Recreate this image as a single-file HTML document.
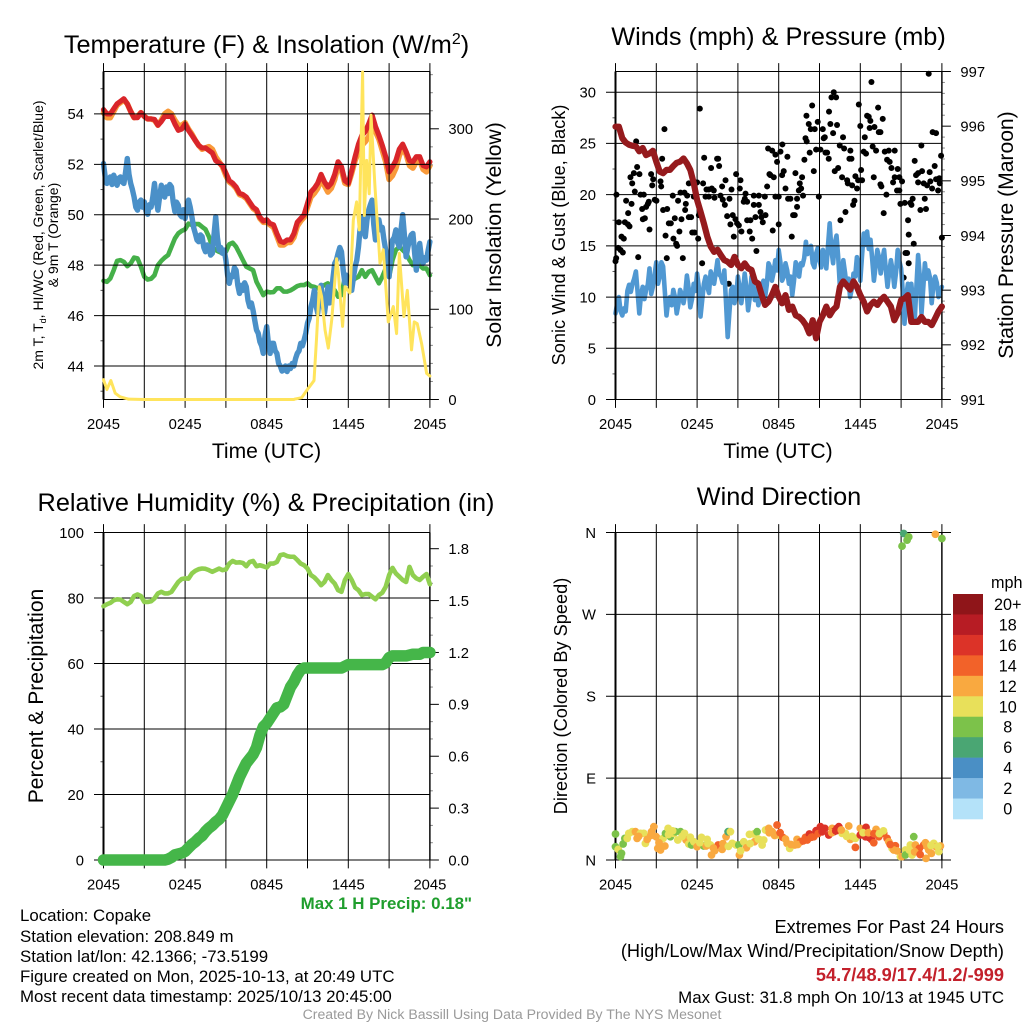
<!DOCTYPE html>
<html lang="en">
<head>
<meta charset="utf-8">
<title>Copake Mesonet Meteogram</title>
<style>
html,body{margin:0;padding:0;background:#fff;}
svg{display:block;font-family:"Liberation Sans",Arial,sans-serif;fill:#000;}
.tick{font-size:14.8px;}
.axt{font-size:21.1px;}
.axs{font-size:18.2px;}
.ttl{font-size:25.3px;}
.info{font-size:16.85px;}
.infob{font-size:18.2px;}
</style>
</head>
<body>
<svg id="chart" width="1024" height="1024" viewBox="0 0 1024 1024" xmlns="http://www.w3.org/2000/svg">
  <g id="layer-under"></g>
  <text class="ttl" x="266.5" y="53" text-anchor="middle">Temperature (F) &amp; Insolation (W/m<tspan font-size="16" dy="-9">2</tspan><tspan dy="9">)</tspan></text>
  <text class="ttl" x="778.5" y="45" text-anchor="middle">Winds (mph) &amp; Pressure (mb)</text>
  <text class="ttl" x="266" y="511" text-anchor="middle">Relative Humidity (%) &amp; Precipitation (in)</text>
  <text class="ttl" x="779" y="505" text-anchor="middle">Wind Direction</text>

  <text class="axt" x="266.5" y="458" text-anchor="middle">Time (UTC)</text>
  <text class="axt" x="778" y="458" text-anchor="middle">Time (UTC)</text>

  <text font-size="14" text-anchor="middle" transform="translate(43,235) rotate(-90)">2m T, T<tspan font-size="9" dy="3">d</tspan><tspan dy="-3">, HI/WC (Red, Green, Scarlet/Blue)</tspan></text>
  <text font-size="14" text-anchor="middle" transform="translate(58,235) rotate(-90)">&amp; 9m T (Orange)</text>
  <text class="axt" text-anchor="middle" transform="translate(501,235) rotate(-90)">Solar Insolation (Yellow)</text>
  <text class="axs" text-anchor="middle" transform="translate(565,235) rotate(-90)">Sonic Wind &amp; Gust (Blue, Black)</text>
  <text class="axt" text-anchor="middle" transform="translate(1013,235) rotate(-90)">Station Pressure (Maroon)</text>
  <text class="axt" text-anchor="middle" transform="translate(43,696) rotate(-90)">Percent &amp; Precipitation</text>
  <text class="axs" text-anchor="middle" transform="translate(567,696) rotate(-90)">Direction (Colored By Speed)</text>

  <text font-size="16.9" font-weight="bold" fill="#1f9e2d" x="472" y="909" text-anchor="end">Max 1 H Precip: 0.18"</text>

  <text class="info" x="20" y="921">Location: Copake</text>
  <text class="info" x="20" y="942">Station elevation: 208.849 m</text>
  <text class="info" x="20" y="962">Station lat/lon: 42.1366; -73.5199</text>
  <text class="info" x="20" y="982">Figure created on Mon, 2025-10-13, at 20:49 UTC</text>
  <text class="info" x="20" y="1002">Most recent data timestamp: 2025/10/13 20:45:00</text>

  <text class="infob" x="1004" y="933" text-anchor="end">Extremes For Past 24 Hours</text>
  <text class="infob" x="1004" y="957" text-anchor="end">(High/Low/Max Wind/Precipitation/Snow Depth)</text>
  <text class="infob" font-weight="bold" fill="#c3202b" x="1004" y="981" text-anchor="end">54.7/48.9/17.4/1.2/-999</text>
  <text class="info" x="1004" y="1003" text-anchor="end">Max Gust: 31.8 mph On 10/13 at 1945 UTC</text>
  <text font-size="14.1" fill="#9a9a9a" x="512" y="1019" text-anchor="middle">Created By Nick Bassill Using Data Provided By The NYS Mesonet</text>
</svg>

<script>
// ---------- shared axis data ----------
const xTickHours = [0, 3, 6, 9, 12, 15, 18, 21, 24];
const xTickLabels = ['2045', '', '0245', '', '0845', '', '1445', '', '2045'];
const spanHours = 24;

// ---------- temperature panel ----------
const tempTicks = [44, 46, 48, 50, 52, 54];
const tempMinorTicks = [43, 45, 47, 49, 51, 53, 55];
const insolTicks = [0, 100, 200, 300];
const insolMinorTicks = [20, 40, 60, 80, 120, 140, 160, 180, 220, 240, 260, 280, 320, 340, 360];
const temp2m = [54.17,54.0,54.0,54.2,54.4,54.5,54.6,54.4,54.1,53.85,53.85,54.05,53.9,53.8,53.8,53.78,53.55,53.7,53.9,53.9,53.9,53.6,53.35,53.4,53.6,53.35,53.15,52.95,52.75,52.65,52.65,52.55,52.45,52.15,52.05,51.95,51.65,51.35,51.25,51.1,50.85,50.8,50.7,50.5,50.3,50.2,49.9,49.75,49.8,49.65,49.6,49.25,48.95,48.9,49.0,49.0,49.25,49.7,49.85,50.0,50.45,50.9,51.05,51.25,51.6,51.3,51.1,51.25,51.6,52.1,51.9,51.35,51.25,51.75,52.3,52.8,53.15,53.3,53.6,53.95,53.5,53.15,52.75,52.3,51.7,51.9,52.15,52.6,52.8,52.5,52.15,52.1,52.3,52.3,51.95,51.9,52.1];
const temp9m = [54.05,53.85,53.85,54.1,54.35,54.45,54.55,54.4,54.1,53.85,53.9,54.05,53.9,53.8,53.8,53.75,53.55,53.75,54.0,54.1,54.0,53.75,53.55,53.55,53.65,53.4,53.2,52.95,52.75,52.6,52.65,52.7,52.6,52.3,52.1,51.9,51.55,51.3,51.2,51.05,50.8,50.75,50.65,50.45,50.25,50.15,49.85,49.7,49.7,49.6,49.5,49.15,48.8,48.8,48.9,48.9,49.1,49.55,49.75,49.9,50.3,50.7,50.85,51.05,51.4,51.15,50.9,51.05,51.4,51.95,51.75,51.25,51.2,51.65,52.15,52.5,52.75,52.9,53.1,53.4,53.3,53.0,52.55,52.1,51.4,51.55,51.85,52.35,52.65,52.4,51.95,51.85,52.1,52.15,51.8,51.7,51.95];
const dewPoint = [47.38,47.34,47.47,47.8,48.17,48.2,48.13,47.96,48.07,48.3,48.27,47.94,47.54,47.43,47.46,47.6,48.0,48.17,48.3,48.4,48.73,49.06,49.26,49.36,49.42,49.65,49.59,49.63,49.63,49.52,49.42,49.13,48.73,48.6,48.53,48.47,48.53,48.83,48.89,48.73,48.47,48.2,47.94,47.87,47.8,47.34,47.08,46.81,46.95,46.92,46.93,47.08,47.08,46.95,46.95,47.0,47.08,47.17,47.21,47.21,47.28,47.17,47.14,47.08,47.14,47.21,47.28,47.14,47.0,46.75,46.81,47.54,47.28,47.34,47.47,47.54,47.8,47.54,47.74,47.8,47.54,47.28,47.54,47.87,47.54,48.2,48.6,48.73,48.6,48.47,48.2,48.0,48.13,48.0,47.87,47.87,47.6];
const apparentTemp = [52.03,51.5,51.24,51.4,51.5,51.2,51.57,51.4,51.17,51.45,51.5,51.3,51.24,51.7,52.23,51.6,51.24,51.0,50.7,50.3,50.18,50.5,50.58,50.3,50.51,50.15,50.02,50.4,50.3,50.7,51.24,50.6,50.18,50.7,51.17,50.8,50.7,51.1,50.84,51.2,51.1,50.5,50.12,50.5,50.38,50.0,49.92,50.2,49.85,50.2,50.58,50.3,49.92,49.5,49.26,49.0,48.93,49.2,49.13,48.7,48.53,48.8,48.73,48.4,48.47,49.2,49.92,49.1,48.6,48.7,48.47,48.6,48.2,47.6,47.28,47.6,47.54,47.9,47.8,47.2,46.88,47.2,47.0,47.3,47.14,46.6,46.35,46.5,46.2,45.8,45.43,45.3,44.96,44.8,44.5,45.2,45.56,44.9,44.5,44.9,44.9,44.6,44.5,44.1,44.0,43.8,43.84,44.0,43.78,44.0,43.9,44.1,44.0,44.3,44.5,44.6,44.9,44.8,45.03,45.3,45.7,45.9,46.35,46.6,47.0,46.4,46.1,46.8,47.2,46.5,46.1,46.6,47.14,46.5,46.75,47.5,48.07,48.2,48.47,48.7,48.53,47.8,47.28,47.6,47.28,47.4,47.0,47.5,47.94,48.2,48.73,49.5,49.92,49.4,49.13,49.8,50.18,50.4,50.58,49.6,49.0,49.5,49.8,49.4,49.5,49.0,48.6,48.1,47.54,48.4,49.0,49.1,49.4,48.9,48.73,49.4,50.0,49.2,48.33,48.7,49.0,49.2,49.26,48.5,47.8,48.4,48.86,48.3,48.07,48.3,48.2,48.6,48.93];
const insolHours = [0,0.25,0.54,0.86,1.22,1.84,3,6,9,12,14,14.08,14.57,14.94,15.48,15.67,15.87,16.04,16.29,16.53,16.78,17.14,17.27,17.58,17.76,18.12,18.37,18.61,18.81,19.05,19.18,19.35,19.54,19.67,19.96,20.33,20.57,20.94,21.31,21.55,21.75,22.09,22.34,22.65,22.85,23.07,23.39,23.76,24];
const insolValues = [22,11,21,7,3,0.4,0,0,0,0,0,0.5,2,10,21,69,125,114,77,57,88,156,140,81,125,118,199,219,188,363,204,265,228,315,236,151,166,86,103,73,162,92,121,55,86,84,62,29,26];

// ---------- wind panel ----------
const windTicks = [0, 5, 10, 15, 20, 25, 30];
const windMinorTicks = [2.5, 7.5, 12.5, 17.5, 22.5, 27.5];
const pressTicks = [991, 992, 993, 994, 995, 996, 997];
const pressMinorTicks = [991.2,991.4,991.6,991.8,992.2,992.4,992.6,992.8,993.2,993.4,993.6,993.8,994.2,994.4,994.6,994.8,995.2,995.4,995.6,995.8,996.2,996.4,996.6,996.8];
const windSpeed = [8.4,9.4,10.0,8.6,8.2,8.9,8.6,10.6,11.2,10.5,11.3,11.8,12.5,10.5,8.4,10.2,11.0,9.8,10.7,11.2,12.8,10.3,11.0,12.2,13.4,11.3,12.0,13.4,13.0,10.6,8.2,9.6,10.0,9.2,10.7,10.0,8.4,9.3,10.7,10.3,9.4,10.3,12.1,10.9,9.0,9.8,11.3,10.6,12.3,11.0,8.1,9.7,11.3,12.0,11.0,10.4,12.5,11.9,11.3,12.4,13.6,12.2,12.0,11.4,12.6,9.5,6.1,8.5,10.7,11.0,9.4,10.2,12.0,11.0,9.4,10.6,12.3,10.9,8.7,10.0,12.0,11.3,9.7,10.8,9.2,9.8,11.0,11.6,10.0,11.2,13.3,12.9,11.6,12.4,13.6,12.6,14.6,13.4,11.6,12.0,13.3,12.6,11.3,12.0,10.2,11.6,13.4,12.8,12.0,13.3,13.1,13.8,15.4,14.2,14.6,15.0,13.3,12.9,14.25,14.8,13.6,12.9,14.6,14.0,12.8,15.0,17.2,14.6,13.3,15.3,16.0,13.9,11.0,12.2,13.6,12.4,11.0,11.8,10.0,10.8,12.3,12.0,13.9,12.9,11.6,14.0,16.2,15.1,16.4,14.7,15.6,13.7,11.6,13.0,14.6,13.9,12.3,13.6,14.6,12.7,11.0,12.4,13.6,12.6,11.0,12.4,14.6,13.5,12.8,10.5,7.4,10.0,11.3,9.6,11.3,9.5,7.7,11.0,14.1,12.0,8.4,10.8,13.3,11.8,12.6,11.9,9.4,11.2,12.0,11.4,10.0,10.6,11.0];
const pressure = [995.99,995.99,995.78,995.7,995.66,995.64,995.63,995.54,995.6,995.47,995.5,995.55,995.35,995.17,995.14,995.2,995.2,995.27,995.33,995.35,995.41,995.32,995.2,994.96,994.65,994.44,994.22,993.98,993.8,993.7,993.74,993.64,993.55,993.52,993.46,993.61,993.46,993.4,993.49,993.4,993.37,993.16,993.12,992.91,992.73,992.79,992.91,993.06,992.88,992.76,992.91,992.64,992.7,992.54,992.51,992.45,992.36,992.21,992.45,992.12,992.42,992.54,992.7,992.54,992.64,992.7,993.06,993.16,993.09,993.01,993.16,993.06,992.91,992.79,992.61,992.73,992.79,992.73,992.82,992.88,992.79,992.7,992.45,992.58,992.82,992.85,992.91,992.42,992.42,992.42,992.51,992.42,992.42,992.36,992.48,992.61,992.7];
const gustHours = [0,0.05,0.07,0.25,0.2,0.37,0.54,0.44,0.61,0.69,0.78,0.91,0.93,1.03,1.1,1.18,1.23,1.35,1.42,1.52,1.59,1.67,1.76,1.84,1.96,2.08,2.01,2.16,2.25,2.38,2.45,2.5,2.62,2.7,2.77,2.89,3.01,3.31,3.36,3.43,3.5,3.6,3.68,3.8,3.77,3.92,4.07,4.21,4.26,4.36,4.46,4.53,4.6,4.7,4.78,4.85,4.95,5.07,5.12,5.17,5.27,5.39,5.39,5.56,5.64,5.81,5.76,6.0,6.13,6.2,6.08,6.37,6.44,6.52,6.62,6.69,6.86,7.03,7.08,6.86,7.23,7.28,7.47,7.55,7.62,7.72,7.84,7.89,8.04,8.09,8.21,8.33,8.38,8.45,8.53,8.62,8.7,8.82,8.87,8.94,9.07,9.14,9.19,9.26,9.43,9.56,9.51,9.68,9.68,9.87,9.92,10.05,10.17,10.17,10.29,10.36,10.54,10.54,10.66,10.73,10.83,11.03,10.98,11.15,11.22,11.32,11.39,11.52,11.56,11.64,11.76,11.88,11.76,12,12,12.13,12.27,12.25,12.37,12.5,12.64,12.69,12.86,12.96,13.06,13.18,13.23,13.35,13.35,13.48,13.55,13.65,13.72,13.79,13.89,13.97,14.06,14.04,14.21,14.28,14.36,14.46,14.58,14.65,14.75,14.87,14.95,15.07,15.24,15.31,15.39,15.44,15.56,15.68,15.7,15.8,15.88,16.0,16.05,16.22,16.29,16.12,16.37,16.49,16.54,16.66,16.73,16.81,16.91,17.03,17.08,17.2,17.27,17.35,17.4,17.47,17.57,17.64,17.76,17.84,17.89,18.0,18.06,18.13,18.25,18.33,18.42,18.5,18.62,18.69,18.74,18.82,18.91,18.99,19.04,19.16,19.31,19.36,19.48,19.48,19.55,19.65,19.72,19.8,19.92,19.97,20.09,20.16,20.29,20.41,20.53,20.53,20.7,20.75,20.87,20.95,20.87,21.07,21.19,21.27,21.32,21.44,21.51,21.56,21.56,21.68,21.76,21.85,21.93,22.0,22.1,22.25,22.25,22.42,22.54,22.49,22.66,22.74,22.83,22.91,23.03,23.1,23.15,23.28,23.32,23.47,23.57,23.57,23.72,23.81,23.84,23.94,24];
const gustSpeeds = [13.5,13.8,20.0,17.3,14.8,14.6,14.35,15.9,15.7,17.3,19.4,17.1,18.2,16.9,21.7,19.1,21.1,22.1,20.3,25.2,22.7,13.9,22.0,20.0,18.6,20.0,17.6,17.7,18.8,19.1,19.3,16.6,22.0,20.9,21.5,19.5,19.4,21.3,20.8,23.5,18.5,26.4,16.0,18.6,13.8,17.2,17.2,19.9,15.7,17.7,15.2,15.0,19.4,16.4,20.2,17.6,13.8,20.2,18.5,19.1,19.9,21.1,17.8,17.8,16.3,16.3,19.8,21.2,18.0,28.4,15.7,13.3,21.1,23.6,19.8,20.5,20.5,22.6,20.6,19.8,20.4,19.7,23.5,23.5,22.8,19.9,20.8,19.5,19.0,21.4,17.9,11.3,19.6,17.1,20.5,18.0,15.9,17.6,22.0,17.2,17.0,20.6,21.4,16.4,19.3,20.1,19.6,19.3,17.5,16.4,17.5,15.7,19.9,19.0,17.8,14.5,19.0,19.9,18.3,17.8,17.3,18.0,19.8,20.8,24.5,22.0,21.9,24.3,16.5,21.7,23.9,23.2,19.8,19.8,17.1,24.2,24.9,21.9,22.3,20.6,23.7,19.6,19.6,15.9,18.0,18.0,22.1,18.8,19.6,20.4,21.1,20.6,21.7,19.9,23.4,25.5,25.2,27.7,26.9,24.1,26.4,28.7,22.3,26.4,24.4,27.1,19.8,24.4,26.4,25.5,25.6,24.1,24.1,23.5,28.1,26.9,29.5,26.0,30.0,29.5,26.8,22.3,22.6,24.8,17.5,21.7,25.6,24.5,18.3,21.4,21.1,23.5,24.3,23.5,20.9,19.0,19.4,21.8,20.6,21.4,28.8,26.7,22.4,21.4,24.2,25.6,24.0,27.7,27.6,26.5,27.2,31.0,24.7,21.7,26.6,24.3,28.5,26.1,26.1,21.0,20.8,27.4,18.2,24.2,20.0,23.4,24.3,23.2,22.6,21.2,24.3,21.7,20.4,22.5,20.4,19.1,21.7,21.3,11.9,19.2,14.3,14.3,17.5,16.1,13.3,19.2,19.0,19.6,15.2,23.3,21.9,22.1,21.2,18.5,22.3,24.8,21.1,19.6,18.6,20.9,31.8,22.2,21.3,20.6,26.1,22.8,26.0,21.5,20.4,21.6,21.1,23.8,15.8];

// ---------- humidity panel ----------
const rhTicks = [0, 20, 40, 60, 80, 100];
const rhMinorTicks = [10, 30, 50, 70, 90];
const precipTicks = [0, 0.3, 0.6, 0.9, 1.2, 1.5, 1.8];
const precipTickLabels = ['0.0', '0.3', '0.6', '0.9', '1.2', '1.5', '1.8'];
const precipMinorTicks = [0.1, 0.2, 0.4, 0.5, 0.7, 0.8, 1.0, 1.1, 1.3, 1.4, 1.6, 1.7];
const relHumidity = [77.5,78.1,78.5,79.3,79.6,79.5,78.8,78.1,78.8,80.6,81.1,80.6,78.8,78.8,79.0,79.9,81.4,81.9,81.4,81.4,81.9,83.4,84.9,85.8,86.0,85.9,87.5,88.3,88.8,89.0,88.9,88.5,88.0,88.5,89.0,88.5,88.7,90.5,91.3,90.8,90.9,90.7,89.7,91.0,91.3,89.7,90.0,89.7,89.3,90.5,90.5,91.0,93.1,93.3,92.8,92.6,92.6,91.6,90.5,90.0,89.0,87.0,86.3,85.2,83.9,84.9,87.0,85.5,84.4,82.4,81.9,85.5,87.3,85.5,83.2,82.4,80.9,81.2,81.2,80.4,79.6,80.9,81.6,83.4,87.0,89.2,87.5,86.5,85.5,84.9,89.5,87.0,86.0,85.5,86.5,87.3,84.2];
const precipTotal = [0,0,0,0,0,0,0,0,0,0,0,0,0,0,0,0,0,0,0,0.005,0.015,0.03,0.035,0.04,0.05,0.07,0.09,0.105,0.125,0.14,0.165,0.185,0.2,0.22,0.235,0.26,0.3,0.34,0.38,0.43,0.48,0.52,0.56,0.585,0.61,0.65,0.72,0.77,0.79,0.82,0.85,0.88,0.885,0.9,0.95,1.0,1.03,1.07,1.1,1.11,1.11,1.11,1.11,1.11,1.11,1.11,1.11,1.11,1.11,1.11,1.11,1.12,1.13,1.13,1.13,1.13,1.13,1.13,1.13,1.13,1.13,1.13,1.13,1.14,1.17,1.18,1.18,1.18,1.18,1.18,1.185,1.19,1.19,1.19,1.2,1.2,1.2];

// ---------- direction panel ----------
const dirTicks = [0, 90, 180, 270, 360];
const dirTickLabels = ['N', 'E', 'S', 'W', 'N'];
const dirHours = [0,0,0.2,0.37,0.44,0.56,0.69,0.86,0.98,1.23,1.47,1.59,1.84,2.08,2.2,2.33,2.65,2.82,2.99,3.11,3.31,3.63,3.5,3.68,3.87,4.04,4.29,4.41,4.58,4.78,5.07,5.19,5.39,5.59,5.76,6.0,6.32,6.49,6.74,6.98,6.66,7.06,7.3,7.55,7.84,8.13,8.28,8.45,8.58,8.87,9.07,9.11,9.43,9.63,9.85,10.17,10.22,10.41,10.66,10.78,11.03,11.27,11.52,11.88,12,12.3,12.62,12.81,13.18,13.35,13.6,13.97,14.26,14.58,14.75,15.07,15.39,15.68,15.93,16.05,16.29,16.42,16.66,16.91,17.15,17.27,17.64,17.64,18.0,18.0,18.42,18.38,18.62,18.82,19.16,18.99,19.36,19.72,19.97,20.09,20.34,20.58,20.46,20.95,21.07,21.32,21.32,21.68,21.81,21.93,22.05,22.25,22.34,22.66,22.79,22.83,23.03,23.23,23.4,23.57,23.77,23.89,21.19,21.07,21.44,21.56,23.52,24,1.7,2.6,3.2,3.9,4.2,4.9,5.5,6.2,6.8,7.2,7.9,8.3,9.2,9.9,10.5,10.9,11.3,11.7,12.1,12.5,12.9,13.4,13.8,14.1,14.4,14.9,15.2,15.9,16.2,16.6,17.0,17.4,18.2,18.6,19.0,19.4,19.7,20.2,20.7,21.6,22.0,22.4,22.9,23.2,23.7];
const dirDegrees = [28.6,14.6,11.7,3.7,7.3,17.6,23.8,23.8,29.3,31.1,31.1,23.8,29.3,29.3,18.3,22.7,31.1,36.6,25.6,12.8,11,15.4,23.8,29.3,34.8,25.6,29.3,31.1,22,31.1,29.3,22,17.6,16.5,20.1,14.6,24.9,15.4,22.7,16.5,15.4,5.5,10.3,16.5,11.7,25.6,31.1,31.1,18.3,16.5,16.5,5.5,20.1,13.5,28.2,28.6,20.1,31.1,22,16.5,33,34.8,31.1,38.5,27.5,24.9,18.3,12.8,16.5,22.7,20.1,24.9,28.6,25.6,32.2,36.6,34.8,27.5,34.8,31.1,34.8,36.6,29.3,29.3,37.4,22.7,13.9,23.8,34.8,27.5,35.9,25.6,24.9,22.7,33.7,19,25.6,29.3,23.8,20.1,12.8,15.7,11,3.7,3.7,11,5.5,16.5,5.5,25.6,16.5,9.2,12.8,16.5,19,1.8,11,7.3,18.3,14.6,9.2,15.4,358.9,345,351.6,355.2,358.1,353.4,26,27,19,28,32,26,25,19,18,13,18,15,10,18,23,22,30,27,30,23,17,17,21,22,25,29,31,30,32,33,26,26,30,30,29,29,32,17,10,11,9,6,15,16,15];
const dirSpeeds = [7,7,9,7,7,7,7,9,9,9,11,11,9,9,9,11,11,11,11,11,11,11,9,7,9,7,9,7,9,7,9,11,9,7,9,11,9,7,9,9,11,11,11,13,11,11,6,9,9,9,7,11,9,11,9,9,11,7,9,9,9,11,11,13,9,13,11,9,11,11,13,13,15,13,15,15,15,15,11,15,15,15,9,9,11,11,13,9,11,15,15,15,15,15,11,13,13,13,13,11,9,13,11,9,11,9,7,9,9,7,11,11,13,13,11,11,11,11,9,11,9,11,6,7,7,7,11,7,11,11,11,9,9,9,9,9,9,11,11,9,9,9,9,9,11,11,13,11,11,11,13,13,13,13,15,11,15,11,9,9,9,11,13,9,9,13,11,9,11,13,11,9,9];

// ---------- speed legend ----------
const legendLabels = ['20+', '18', '16', '14', '12', '10', '8', '6', '4', '2', '0'];
const legendColors = ['#8f1519', '#b71c24', '#dc3328', '#f26229', '#f9a940', '#e8e05a', '#7cc24a', '#4aa673', '#4a8fc5', '#7fb9e4', '#b4e2f9'];

// ---------- drawing helpers ----------
const SVGNS = 'http://www.w3.org/2000/svg';
const marks = document.getElementById('layer-under');

function make(tag, attrs, parent, name, text) {
  const el = document.createElementNS(SVGNS, tag);
  for (const k in attrs) el.setAttribute(k, attrs[k]);
  
  
  if (text !== undefined) el.textContent = text;
  (parent || marks).appendChild(el);
  return el;
}
function linear(d0, d1, r0, r1) {
  return v => r0 + (v - d0) * (r1 - r0) / (d1 - d0);
}
function evenHours(values) {
  return values.map((_, i) => i * spanHours / (values.length - 1));
}
function drawLine(hours, values, xs, ys, color, width, name, parent) {
  const d = values.map((v, i) => (i ? 'L' : 'M') + xs(hours[i]).toFixed(2) + ' ' + ys(v).toFixed(2)).join('');
  return make('path', { d, fill: 'none', stroke: color, 'stroke-width': width, 'stroke-linejoin': 'round', 'stroke-linecap': 'round' }, parent, name);
}
function seg(x1, y1, x2, y2, w, parent, name) {
  return make('line', { x1, y1, x2, y2, stroke: '#000', 'stroke-width': w }, parent, name);
}

function drawPanelGrid(p, parent) {
  xTickHours.forEach((h, i) => {
    const x = p.xs(h);
    seg(x, p.top - 8.4, x, p.bottom + 8.4, 1, parent, 'time-gridline');
    if (xTickLabels[i]) {
      make('text', { x, y: p.bottom + 29.5, 'text-anchor': 'middle', class: 'tick' }, marks, 'time-tick-label', xTickLabels[i]);
    }
  });
  seg(p.left, p.top, p.right, p.top, 1, parent, 'plot-top-edge');
  p.leftTicks.forEach((v, i) => {
    const y = p.yl(v);
    seg(p.left - 9.5, y, p.rightGridEnd || p.right, y, 1, parent, 'left-gridline');
    make('text', { x: p.left - 19.5, y: y + 5.3, 'text-anchor': 'end', class: 'tick' }, marks, 'left-tick-label', p.leftLabels ? p.leftLabels[i] : String(v));
  });
  (p.leftMinor || []).forEach(v => {
    make('line', { x1: p.left - 3, y1: p.yl(v), x2: p.left, y2: p.yl(v), stroke: '#555', 'stroke-width': 1 }, parent, 'left-minor-tick');
  });
  (p.rightTicks || []).forEach((v, i) => {
    const y = p.yr(v);
    seg(p.right, y, p.right + 9, y, 1, parent, 'right-tick');
    make('text', { x: p.right + 18.5, y: y + 5.3, 'text-anchor': 'start', class: 'tick' }, marks, 'right-tick-label', p.rightLabels ? p.rightLabels[i] : String(v));
  });
  (p.rightMinor || []).forEach(v => {
    make('line', { x1: p.right, y1: p.yr(v), x2: p.right + 3, y2: p.yr(v), stroke: '#888', 'stroke-width': 1 }, parent, 'right-minor-tick');
  });
  seg(p.left, p.top, p.left, p.bottom, 2, parent, 'left-axis-line');
  seg(p.right, p.top, p.right, p.bottom, 1.4, parent, 'right-axis-line');
  seg(p.left, p.bottom, p.right, p.bottom, 1, parent, 'bottom-axis-line');
}

const TOP1 = 71.5, BOT1 = 399.5, TOP2 = 532.5, BOT2 = 860;
const xLeft = linear(0, 24, 103.5, 429.9);
const xRight = linear(0, 24, 615.5, 941.9);

// ---------- panel 1: temperature ----------
(function () {
  const g = make('g', {}, marks, 'temperature-panel');
  const yl = linear(44, 54, 366, 113.9);
  const yr = linear(0, 300, BOT1, 128.8);
  const hours = evenHours(temp2m);
  drawLine(hours, temp9m, xLeft, yl, '#f99a3a', 5.6, 'series-9m-temperature', g);
  drawLine(hours, temp2m, xLeft, yl, '#d9252a', 5.2, 'series-2m-temperature', g);
  drawLine(hours, dewPoint, xLeft, yl, '#45b049', 4.6, 'series-dew-point', g);
  drawLine(evenHours(apparentTemp), apparentTemp, xLeft, yl, '#4a90c8', 5.4, 'series-heat-index-wind-chill', g);
  drawPanelGrid({ xs: xLeft, left: 103.5, right: 429.9, top: TOP1, bottom: BOT1, yl, yr, leftTicks: tempTicks, leftMinor: tempMinorTicks, rightTicks: insolTicks, rightMinor: insolMinorTicks }, g);
  drawLine(insolHours, insolValues, xLeft, yr, '#ffe45c', 3, 'series-solar-insolation', g);
})();

// ---------- panel 2: winds ----------
(function () {
  const g = make('g', {}, marks, 'winds-panel');
  const yl = linear(0, 30, BOT1, 92.2);
  const yr = linear(991, 997, BOT1, TOP1);
  gustHours.forEach((h, i) => {
    make('circle', { cx: xRight(h), cy: yl(gustSpeeds[i]), r: 3, fill: '#000' }, g, 'gust-point');
  });
  drawLine(evenHours(windSpeed), windSpeed, xRight, yl, '#5098d2', 4.6, 'series-sonic-wind', g);
  drawPanelGrid({ xs: xRight, left: 615.5, right: 941.9, top: TOP1, bottom: BOT1, yl, yr, leftTicks: windTicks, leftMinor: windMinorTicks, rightTicks: pressTicks, rightMinor: pressMinorTicks }, g);
  drawLine(evenHours(pressure), pressure, xRight, yr, '#951a1d', 6.2, 'series-station-pressure', g);
})();

// ---------- panel 3: humidity ----------
(function () {
  const g = make('g', {}, marks, 'humidity-panel');
  const yl = linear(0, 100, BOT2, TOP2);
  const yr = linear(0, 1.8, BOT2, 548.7);
  drawPanelGrid({ xs: xLeft, left: 103.5, right: 429.9, top: TOP2, bottom: BOT2, yl, yr, leftTicks: rhTicks, leftMinor: rhMinorTicks, rightTicks: precipTicks, rightLabels: precipTickLabels, rightMinor: precipMinorTicks }, g);
  drawLine(evenHours(relHumidity), relHumidity, xLeft, yl, '#90cf50', 4.6, 'series-relative-humidity', g);
  drawLine(evenHours(precipTotal), precipTotal, xLeft, yr, '#45b649', 11.5, 'series-precipitation', g);
})();

// ---------- panel 4: direction ----------
(function () {
  const g = make('g', {}, marks, 'direction-panel');
  const yl = linear(0, 360, BOT2, TOP2);
  drawPanelGrid({ xs: xRight, left: 615.5, right: 941.9, rightGridEnd: 951, top: TOP2, bottom: BOT2, yl, leftTicks: dirTicks, leftLabels: dirTickLabels }, g);
  const colorFor = s => legendColors[legendColors.length - 1 - Math.min(10, Math.round(s / 2))];
  dirHours.forEach((h, i) => {
    make('circle', { cx: xRight(h), cy: yl(dirDegrees[i]), r: 3.9, fill: colorFor(dirSpeeds[i]) }, g, 'direction-point');
  });
  const lg = make('g', {}, g, 'speed-legend');
  const ly = linear(0, legendLabels.length, 594, 819);
  legendLabels.forEach((lab, i) => {
    make('rect', { x: 953, y: ly(i), width: 30, height: ly(1) - ly(0) + 0.3, fill: legendColors[i] }, lg, 'legend-swatch');
    make('text', { x: 1007.7, y: ly(i) + 16, 'text-anchor': 'middle', 'font-size': 16.2 }, lg, 'legend-label', lab);
  });
  make('text', { x: 991, y: 588, 'font-size': 16.2 }, lg, 'legend-unit', 'mph');
})();
</script>
</body>
</html>
